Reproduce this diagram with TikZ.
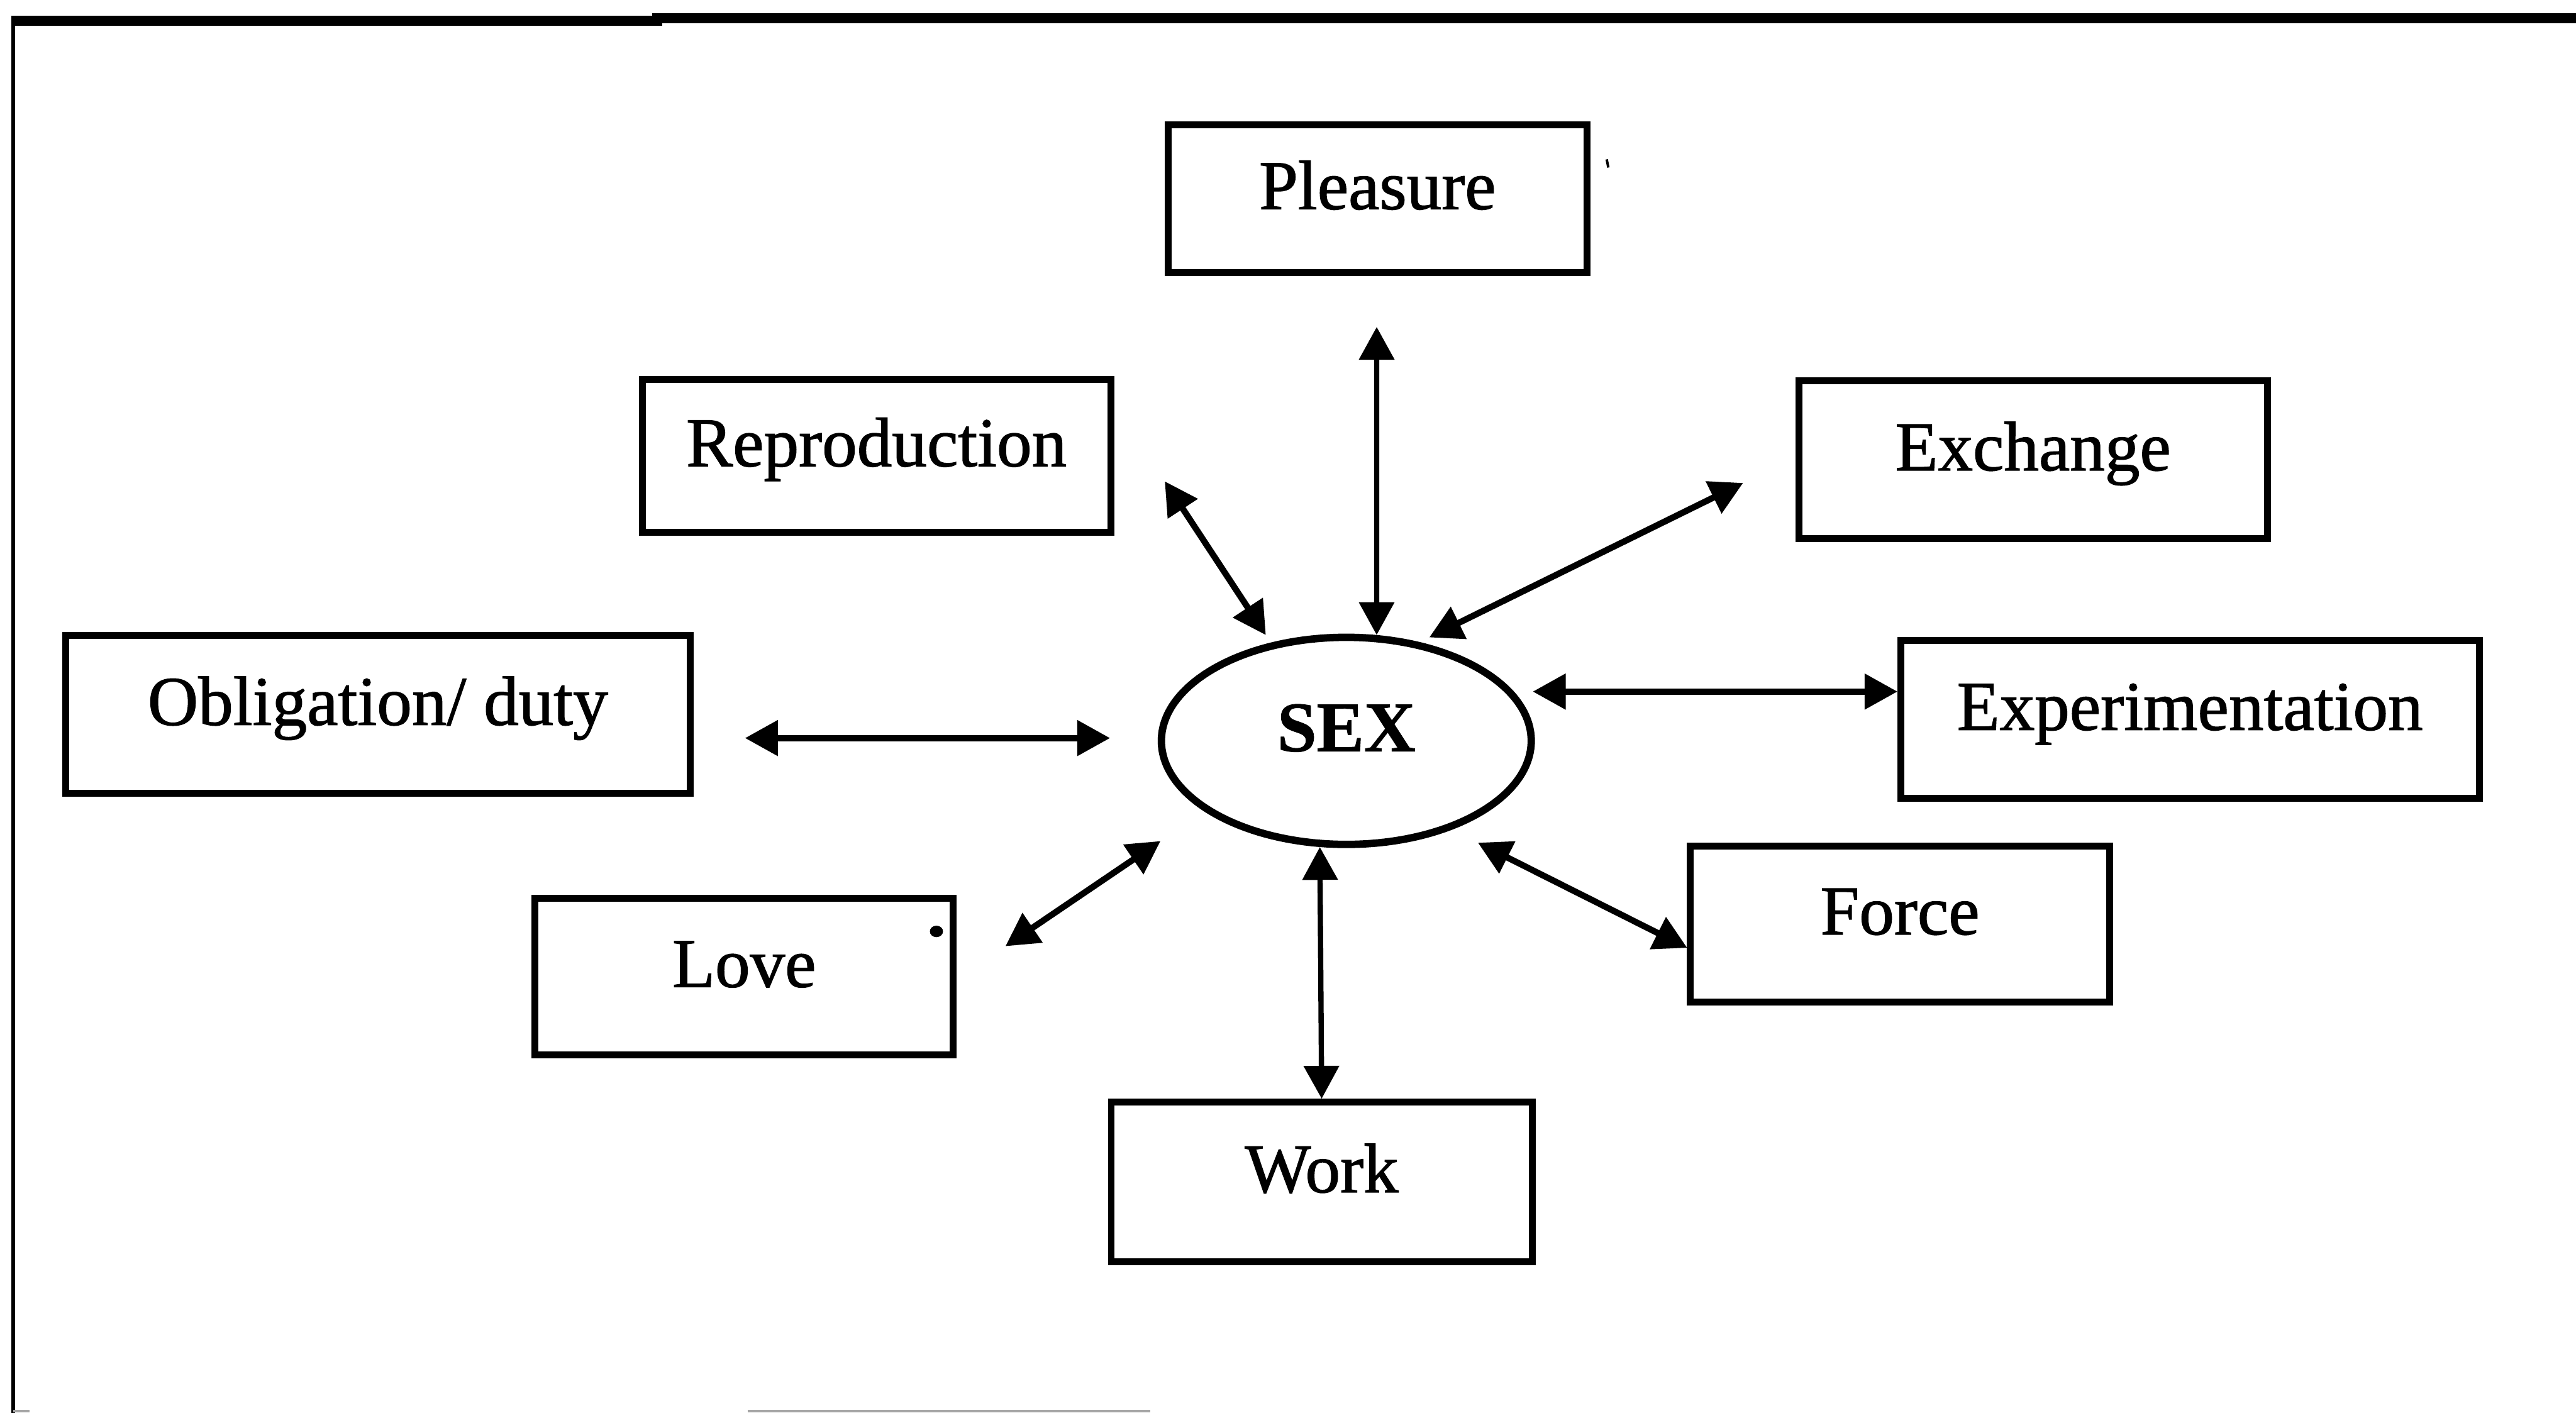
\documentclass[tikz,border=0pt]{standalone}
\usepackage{fontspec}
\setmainfont{Liberation Serif}
\newfontfamily\labelfont{Liberation Serif}[FakeBold=1.2]
\newfontfamily\labelbold{Liberation Serif Bold}[FakeBold=0.8]
\usetikzlibrary{arrows.meta,shapes.geometric}
\begin{document}
\begin{tikzpicture}[x=0.01cm,y=-0.01cm,
  box/.style={draw, rectangle, line width=0.042cm, inner sep=0pt,
    font=\labelfont\fontsize{12.1}{14}\selectfont,
    text height=0.35cm, text depth=0.224cm},
  hub/.style={draw, ellipse, line width=0.045cm, inner sep=0pt,
    font=\labelbold\fontsize{12.3}{14}\selectfont,
    text height=0.35cm, text depth=0.224cm,
    minimum width=2.25cm, minimum height=1.26cm},
  link/.style={line width=0.038cm,
    {Triangle[length=0.2cm,width=0.21cm]}-{Triangle[length=0.2cm,width=0.21cm]}},
  vlink/.style={link, line width=0.032cm}]
\useasboundingbox (0,0) rectangle (1568,860);

% page frame (top and left rules, faint remnant at the bottom)
\draw[line width=0.06cm] (7,12.5) -- (400,12.5) -- (400,11) -- (1568,11);
\draw[line width=0.022cm] (8,10) -- (8,860);
\draw[gray!70, line width=0.015cm] (455,859) -- (700,859);
\draw[gray!70, line width=0.015cm] (8,859) -- (18,859);

% centre
\node[hub] (sex) at (819.5,451) {SEX};

% surrounding boxes
\node[box, minimum width=2.55cm, minimum height=0.90cm] (ple) at (838.5,121) {Pleasure};
\node[box, minimum width=2.85cm, minimum height=0.93cm] (rep) at (533.5,277.5) {Reproduction};
\node[box, minimum width=2.85cm, minimum height=0.96cm] (exc) at (1237.5,280) {Exchange};
\node[box, minimum width=3.80cm, minimum height=0.96cm] (obl) at (230,435) {Obligation/ duty};
\node[box, minimum width=3.52cm, minimum height=0.96cm] (exp) at (1333,438) {Experimentation};
\node[box, minimum width=2.545cm, minimum height=0.95cm] (lov) at (453,594.5) {Love};
\node[box, minimum width=2.55cm, minimum height=0.95cm] (frc) at (1156.5,562.5) {Force};
\node[box, minimum width=2.56cm, minimum height=0.97cm] (wor) at (804.5,719.5) {Work};

% free ends of the connectors
\coordinate (pleE) at (838,199);
\coordinate (repE) at (709,293);
\coordinate (repS) at (770.5,386.6);
\coordinate (excE) at (1061,294);
\coordinate (excS) at (870,388);
\coordinate (oblE) at (453.5,449.3);
\coordinate (oblS) at (675.7,449.3);
\coordinate (expS) at (933,421);
\coordinate (expE) at (1155,421);
\coordinate (lovE) at (612,576);
\coordinate (lovS) at (706.4,512);
\coordinate (frcS) at (899.6,513);
\coordinate (frcE) at (1027,577);

% connectors
\draw[vlink] (pleE) -- (sex.74);
\draw[link] (repE) -- (repS);
\draw[link] (excE) -- (excS);
\draw[link] (oblE) -- (oblS);
\draw[link] (expS) -- (expE);
\draw[link] (lovE) -- (lovS);
\draw[link] (frcS) -- (frcE);
\draw[vlink] (sex.256) -- (wor.north);

% stray marks
\fill (570,567) ellipse [x radius=4, y radius=3.5];
\draw[line width=0.015cm] (978,97) -- (979,102);
\end{tikzpicture}
\end{document}
